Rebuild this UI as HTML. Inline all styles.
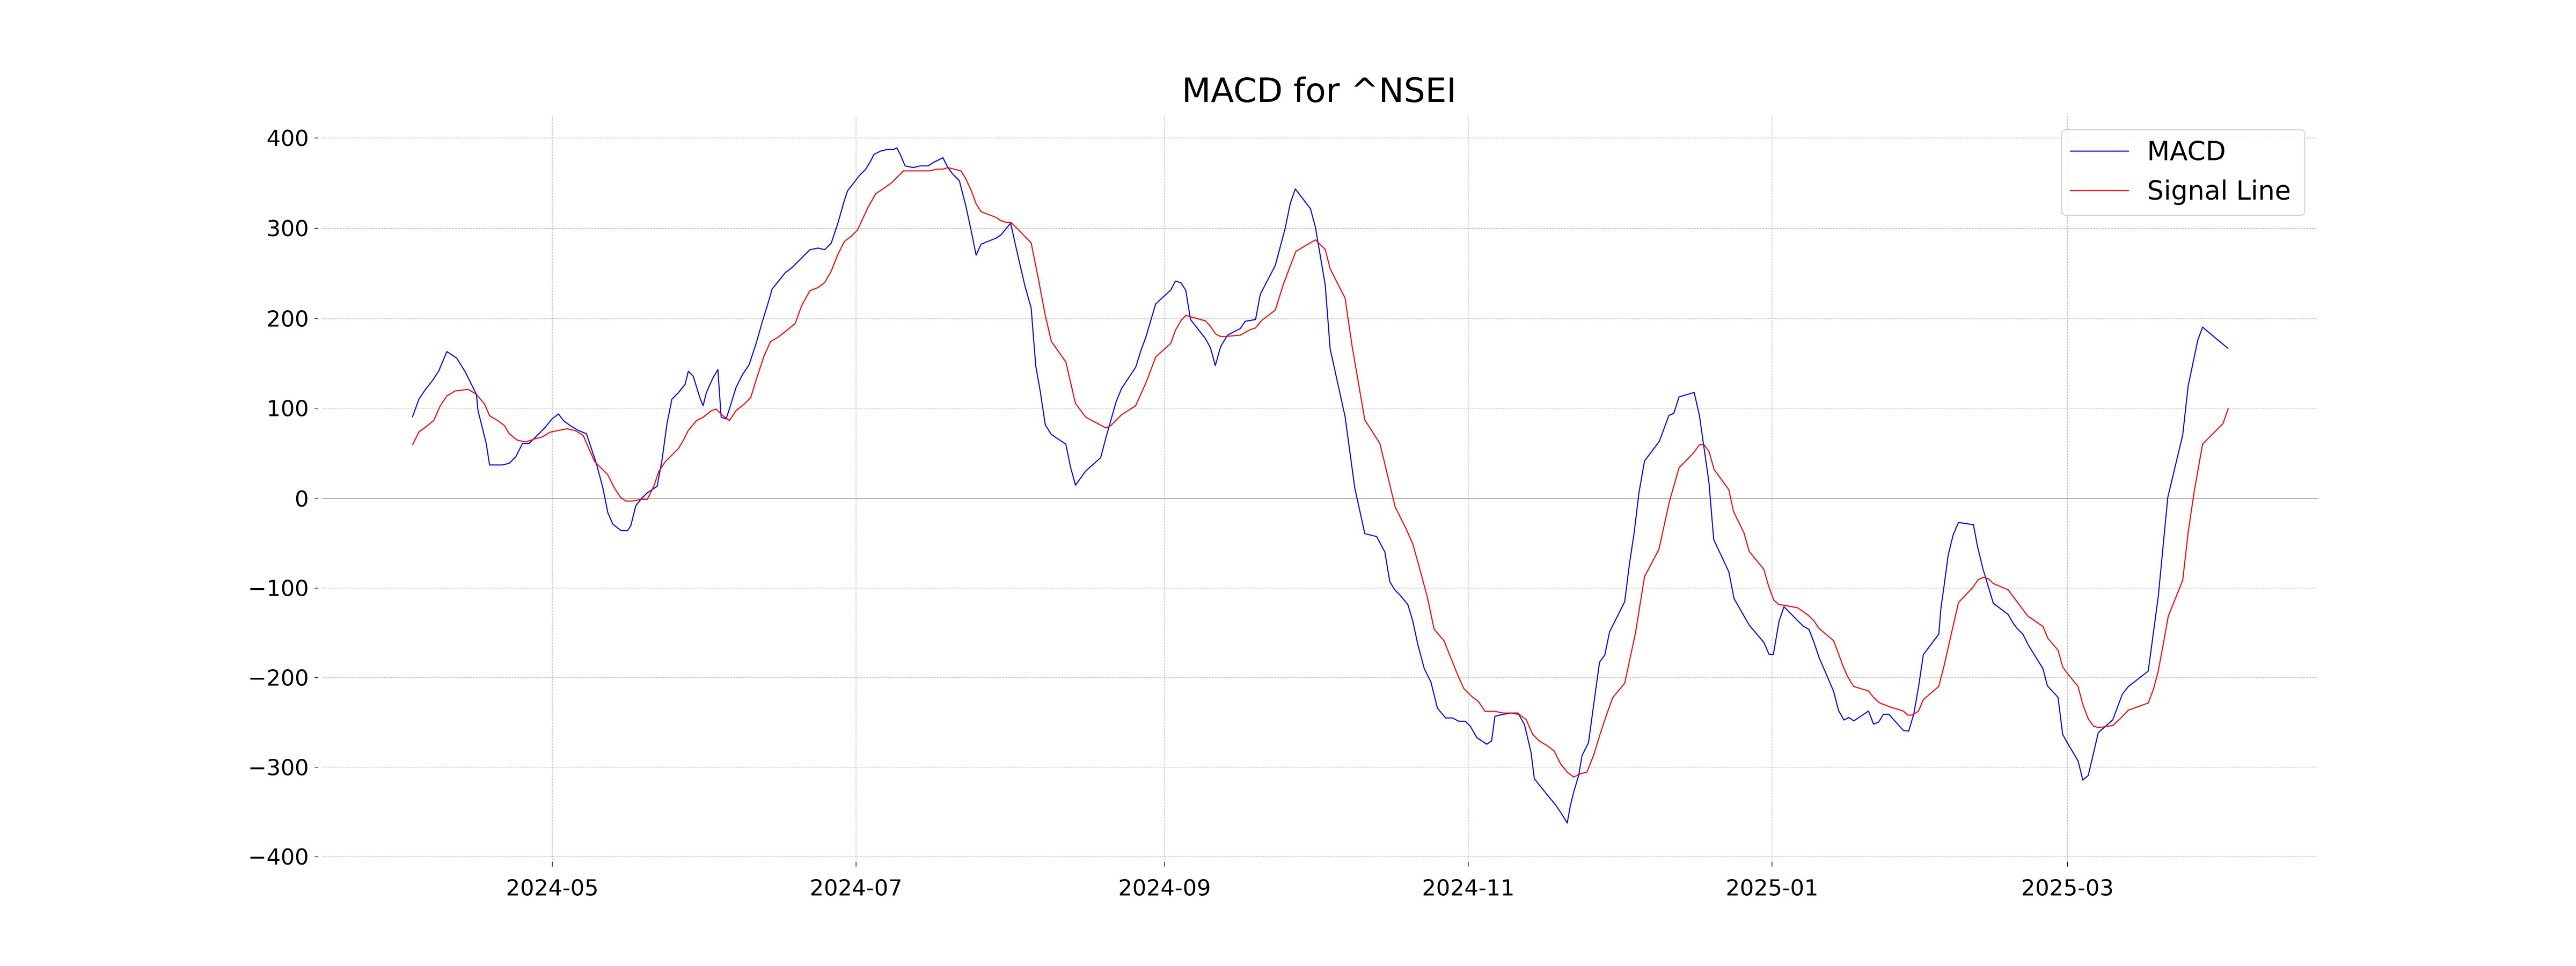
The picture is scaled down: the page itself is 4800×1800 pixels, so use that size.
<!DOCTYPE html>
<html><head><meta charset="utf-8"><style>
html,body{margin:0;padding:0;background:#fff;}
svg{display:block;}
text{font-family:"DejaVu Sans","Liberation Sans",sans-serif;fill:#000;}
</style></head><body>
<svg width="4800" height="1800" viewBox="0 0 1568.1 588.0" preserveAspectRatio="none" xmlns="http://www.w3.org/2000/svg">
<rect width="1568.1" height="588" fill="#fff"/>
<g stroke="#b0b0b0" stroke-width="0.33" stroke-dasharray="1.2,0.6" fill="none">
<line x1="196" x2="1411" y1="84" y2="84"/>
<line x1="196" x2="1411" y1="139" y2="139"/>
<line x1="196" x2="1411" y1="194" y2="194"/>
<line x1="196" x2="1411" y1="248.5" y2="248.5"/>
<line x1="196" x2="1411" y1="358" y2="358"/>
<line x1="196" x2="1411" y1="412.5" y2="412.5"/>
<line x1="196" x2="1411" y1="467" y2="467"/>
<line x1="196" x2="1411" y1="521.5" y2="521.5"/>
<line x1="336.2" x2="336.2" y1="70.6" y2="523.5"/>
<line x1="521.1" x2="521.1" y1="70.6" y2="523.5"/>
<line x1="708.9" x2="708.9" y1="70.6" y2="523.5"/>
<line x1="893.8" x2="893.8" y1="70.6" y2="523.5"/>
<line x1="1078.7" x2="1078.7" y1="70.6" y2="523.5"/>
<line x1="1258.5" x2="1258.5" y1="70.6" y2="523.5"/>
</g>
<line x1="196" x2="1411" y1="303.5" y2="303.5" stroke="#808080" stroke-width="0.4"/>
<g stroke="#000" stroke-width="0.4">
<line x1="191.5" x2="193.5" y1="84" y2="84"/><line x1="191.5" x2="193.5" y1="139" y2="139"/>
<line x1="191.5" x2="193.5" y1="194" y2="194"/><line x1="191.5" x2="193.5" y1="248.5" y2="248.5"/>
<line x1="191.5" x2="193.5" y1="303.5" y2="303.5"/><line x1="191.5" x2="193.5" y1="358" y2="358"/>
<line x1="191.5" x2="193.5" y1="412.5" y2="412.5"/><line x1="191.5" x2="193.5" y1="467" y2="467"/>
<line x1="191.5" x2="193.5" y1="521.5" y2="521.5"/>
<line x1="336.2" x2="336.2" y1="524.5" y2="527.5"/><line x1="521.1" x2="521.1" y1="524.5" y2="527.5"/>
<line x1="708.9" x2="708.9" y1="524.5" y2="527.5"/><line x1="893.8" x2="893.8" y1="524.5" y2="527.5"/>
<line x1="1078.7" x2="1078.7" y1="524.5" y2="527.5"/><line x1="1258.5" x2="1258.5" y1="524.5" y2="527.5"/>
</g>
<g font-size="13.5" text-anchor="end">
<text x="188" y="88.8">400</text><text x="188" y="143.8">300</text><text x="188" y="198.8">200</text>
<text x="188" y="253.3">100</text><text x="188" y="308.3">0</text><text x="188" y="362.8">−100</text>
<text x="188" y="417.3">−200</text><text x="188" y="471.8">−300</text><text x="188" y="526.3">−400</text>
</g>
<g font-size="13.5" text-anchor="middle">
<text x="336.2" y="545">2024-05</text><text x="521.1" y="545">2024-07</text><text x="708.9" y="545">2024-09</text>
<text x="893.8" y="545">2024-11</text><text x="1078.7" y="545">2025-01</text><text x="1258.5" y="545">2025-03</text>
</g>
<text x="803" y="62" font-size="20.5" text-anchor="middle">MACD for ^NSEI</text>
<polyline fill="none" stroke="#0000ff" stroke-width="0.65" stroke-linejoin="round" points="251,254 255,243 259,237 263,232 267,226 272,214 278,218 283,226 290,240 291,250 293,258 296,270 298,283 306,283 310,282 314,278 318,270 322,270 328,264 332,260 336,255 340,252 343,256 347,259 352,262 357,264 363,282 367,297 370,312 373,319 378,323 382,323 384,320 387,308 390,304 394,300 400,296 403,280 406,258 409,243 413,239 417,234 419,226 422,229 426,242 428,247 430,239 434,230 437,225 439,254 442,255 444,249 448,236 452,228 456,222 460,210 464,196 468,183 470,176 474,171 478,166 482,163 485,160 489,156 490,155 493,152 498,151 502,152 506,148 510,136 514,122 516,116 520,111 523,107 527,103 530,98 532,94 536,92 540,91 544,91 546,90 548,94 551,101 556,102 560,101 565,101 568,99 572,97 574,96 577,102 580,106 584,110 588,125.6 591,139.5 594.2,155.3 597.2,148.6 606.3,145 609.3,143 615.2,135.8 618.8,152 623.8,173.6 627.7,187.5 630.5,222.8 633.3,238.6 636.3,258.6 640,264.5 648.8,270.3 651.7,284.5 654.7,295.3 661,286.6 670,278.6 673.3,266.1 679.3,245 682.7,236.5 691.3,223.6 694.7,212.8 697.5,205.3 703.5,185 712.7,176.5 715.5,171.1 718.8,172.1 721.8,176.6 724.7,194.5 733.8,206.1 736.8,211.6 739.8,222.5 743,211.1 747.2,204 755,200 758,195.6 764.3,194.5 767.2,179.1 776.3,161.6 782.2,139.5 785.5,123.6 788.5,115 797.7,127 800.7,138.1 806.7,173.3 809.7,212.3 818.8,253.6 824.7,297 830.8,324.8 838,326.6 843,336 846,354 849,359 852,362 857,368 860,378 863,392 867,407 871,415 875,431 880,437 884,437 888,439 892,439 895,442 899,449 902,451 905,453 908,451 910,436 914,435 920,434 924,434 928,441 932,458 934,474 938,479 942,484 947,490 951,496 954,501 956,490 958,482 961,472 963,460 967,452 970.7,424.7 973.7,403.1 976.9,398.7 979.8,384.6 989,366.3 991.9,343.3 994.8,324 997.7,299.8 1001.1,280.6 1010.1,268.6 1015.9,252.9 1018.9,251.6 1022.1,241.6 1031.3,238.9 1034.5,252.9 1040.3,293.7 1043.2,328.4 1052.4,348.1 1055.6,364.4 1064.8,380.5 1073.7,391 1076.9,398.3 1079.5,398.4 1083,378 1086,369.3 1094.4,377.9 1097.7,381.1 1101.2,383.1 1104.2,390.9 1107.5,400.7 1111.8,410.5 1116.2,420.9 1119.2,432.5 1122.5,438.3 1125.4,436.7 1128.5,438.8 1137.4,432.8 1140.5,440.8 1143.6,439.5 1146.5,434.8 1149.7,434.7 1158.6,444.6 1161.9,445 1165,434.5 1167.9,418 1170.8,398.5 1180.2,386 1181.5,370.2 1183.5,356.1 1185.9,338.1 1188.9,325.8 1192.2,318 1201.3,319.4 1203.8,332.7 1207.1,346.3 1213.4,367.2 1222.4,374 1225.6,379.5 1228.1,382.8 1231.4,386 1234.7,392.6 1239,399.6 1243.6,407 1246.3,417.4 1252.8,424.5 1255.6,447 1257.7,450.8 1265,463.2 1267.9,474.8 1271.2,472 1277.3,446 1286.1,438.2 1289,430.4 1291.9,422.6 1295.6,417.9 1307.7,408.5 1313.8,363.2 1319.6,302.8 1328.7,264.7 1332,235 1337.9,206.9 1340.8,199.1 1348.8,205.9 1356.5,212.2"/>
<polyline fill="none" stroke="#ff0000" stroke-width="0.65" stroke-linejoin="round" points="251,271 255,263 259,260 264,256 268,247 272,241 277,238 285,237 290,240 295,246 298,253 303,256 307,259 310,264 315,268 320,269 326,267 330,266 335,263 340,262 345,261 350,262 355,265 358,272 362,281 366,285 370,289 374,297 378,303 381,305 385,305 390,304 394,304 398,296 401,287 405,281 409,277 413,273 416,268 419,262 424,256 428,254 433,250 436,249 440,253 444,256 448,250 453,246 457,242 461,229 465,217 469,208 474,205 479,201 484,197 488,186 493,177 498,175 502,172 506,165 510,155 514,147 518,144 522,140 528,127 533,118 539,114 543,111 547,107 550,104 554,104 560,104 566,104 570,103 574,103 577,102 581,103 585,104 588,109 591.3,116.1 594.2,124.1 597.2,128.8 606.3,132.3 609.3,134.3 612.2,135.3 615.5,135.5 618.8,138.6 623,143 627.7,147.8 632.2,170.3 636.3,192 640,207.8 648.8,220.3 654.7,245.6 661,254 673.3,260.5 676.3,259 682.7,252.5 691.3,247 698,232 703.5,217.3 712.7,209 715.5,201.1 718.8,195.3 721.8,192 733.8,195.3 736.8,198.6 740,203.3 743,204.8 746.3,204.8 755,204 761.3,200.5 764.3,199.6 767.7,195.3 776.3,188.8 781.3,172.8 788.8,153.1 794.7,149.5 800.7,146 806.7,151.8 809.7,163.6 818.8,181.5 823,210.3 830.8,255.6 840,270 849.3,308.6 852,314 856,322 860,331 865,349 869,364 873,383 879,390 883,400 887,410 891,419 896,424 900,427 904,433 910,433 915,434 920,434 925,435 929,438 933,447 937,451 942,454 946,457 950,465 954,470 958,473 962,471 966,470 970,460 974,447 978,435 981.7,424.7 989,415.9 995.5,385.6 1001.1,351 1009.8,334.5 1016.2,305.4 1022.1,284.7 1030.8,275.8 1034.5,270.7 1037.1,270.4 1040.4,275 1043.4,285.7 1052.4,298.1 1055.3,311.5 1061.6,324.3 1064.8,335.6 1073.7,346.5 1076.5,356.4 1079.7,365.2 1083,368.1 1086,368.4 1094.4,370 1100.9,374.6 1104.2,377.9 1107.2,382.4 1116.2,390 1122.2,406.2 1124.9,412.2 1128.4,417.8 1137.4,420.6 1140.7,424.7 1143.9,427.7 1149.9,430.1 1158.6,432.8 1161.4,435.3 1164.1,435.3 1167.9,432.8 1170.8,425.8 1180.2,417.8 1183.2,406.2 1192.2,366.7 1200.6,358 1204.2,352.8 1207.4,351.4 1210.4,352.3 1213.4,355.2 1222.4,359 1234.3,374.9 1243.6,381.3 1246.6,388.5 1252.8,395.8 1255.6,405.8 1257.7,408.9 1265,417.9 1267.9,428.8 1271.2,437.6 1274.4,442 1277.3,442.9 1286.1,441.6 1290.5,437.6 1295.6,432.3 1307.7,427.9 1310.9,419.5 1313.8,408.5 1316.7,392.9 1319.9,375.1 1328.7,353.2 1332,324.1 1335.7,299.1 1340.8,270.3 1353.2,257.8 1356.5,248.5"/>
<rect x="1255" y="79" width="148" height="52" rx="2.5" fill="#fff" fill-opacity="0.8" stroke="#d0d0d0" stroke-width="0.6"/>
<line x1="1260" x2="1296" y1="92" y2="92" stroke="#0000ff" stroke-width="0.65"/>
<line x1="1260" x2="1296" y1="116" y2="116" stroke="#ff0000" stroke-width="0.65"/>
<g font-size="16">
<text x="1307" y="97.5">MACD</text>
<text x="1307" y="121.5">Signal Line</text>
</g>
</svg>
</body></html>
